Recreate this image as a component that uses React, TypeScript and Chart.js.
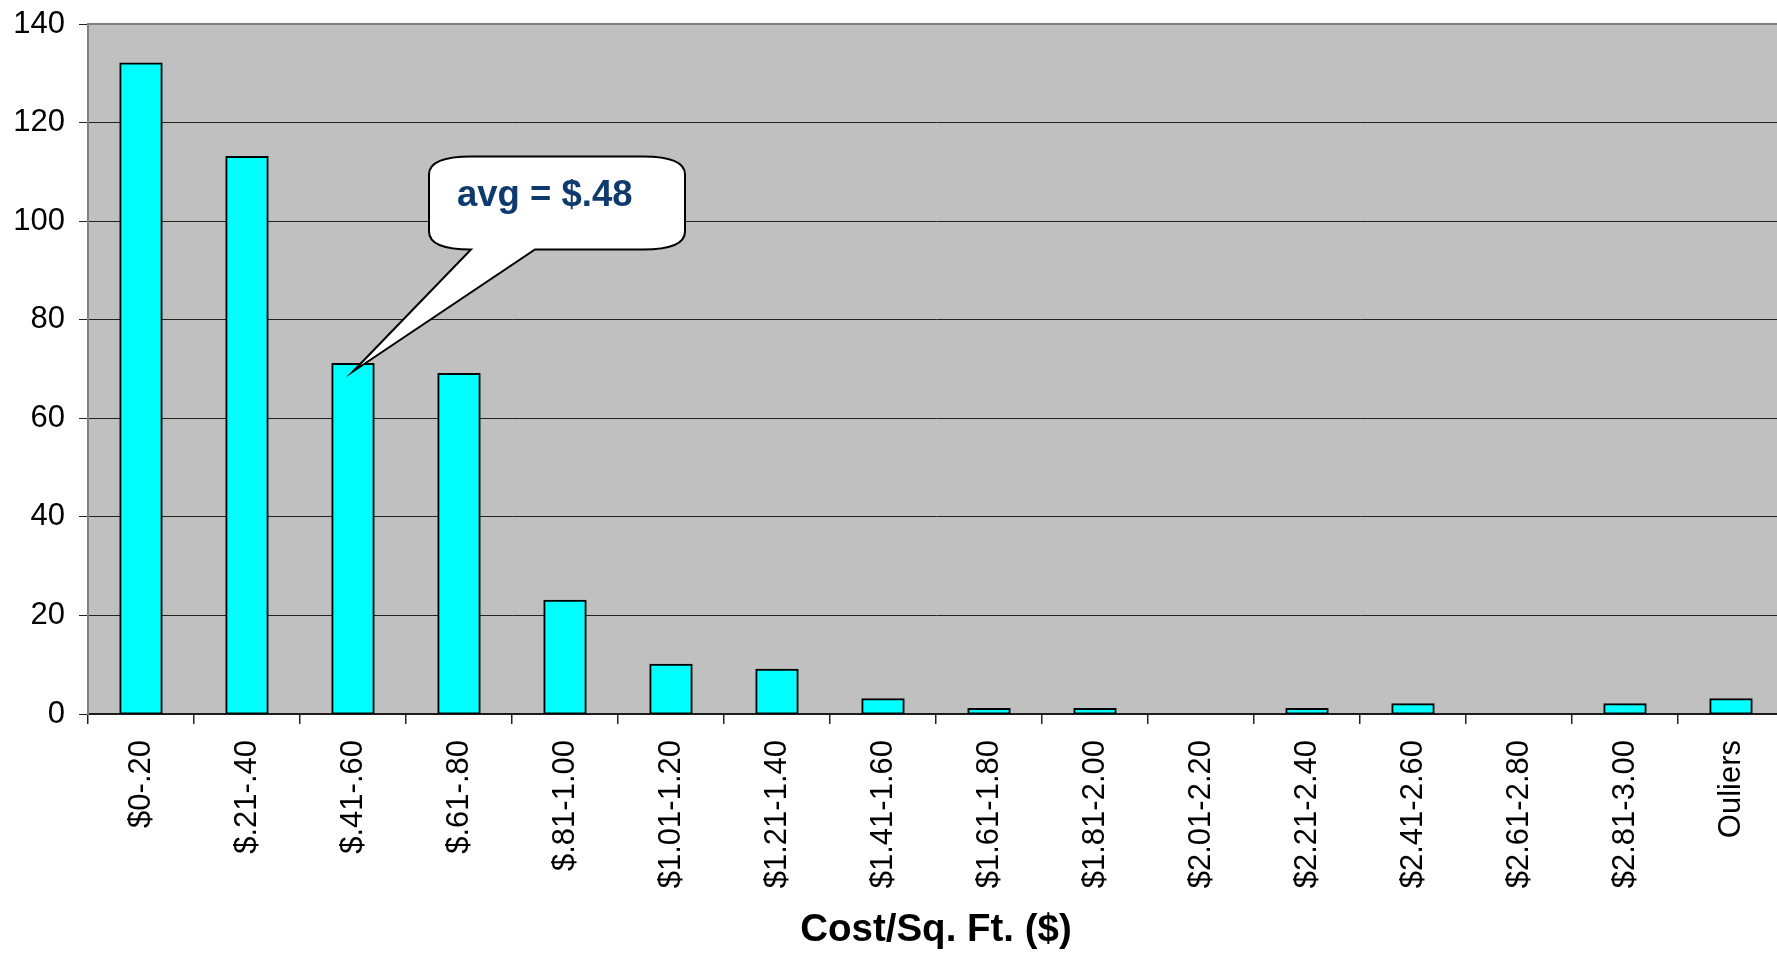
import React, { useEffect, useRef } from "react";
import { Chart, registerables } from "chart.js";

Chart.register(...registerables);

const categories = [
  "$0-.20", "$.21-.40", "$.41-.60", "$.61-.80", "$.81-1.00", "$1.01-1.20",
  "$1.21-1.40", "$1.41-1.60", "$1.61-1.80", "$1.81-2.00", "$2.01-2.20",
  "$2.21-2.40", "$2.41-2.60", "$2.61-2.80", "$2.81-3.00", "Ouliers",
];
const counts = [132, 113, 71, 69, 23, 10, 9, 3, 1, 1, 0, 1, 2, 0, 2, 3];
const yTicks = [0, 20, 40, 60, 80, 100, 120, 140];
const xTitle = "Cost/Sq. Ft. ($)";
const calloutText = "avg = $.48";
const calloutIndex = 2;
const calloutValue = 69.5;

const FONT = "'Liberation Sans', Arial, sans-serif";

const backgroundPlugin = {
  id: "plotBg",
  beforeDraw(chart: any) {
    const { ctx, chartArea } = chart;
    ctx.save();
    ctx.fillStyle = "#C0C0C0";
    ctx.fillRect(chartArea.left, chartArea.top, chartArea.right - chartArea.left, chartArea.bottom - chartArea.top);
    ctx.restore();
  },
  afterDraw(chart: any) {
    const { ctx, chartArea } = chart;
    ctx.save();
    ctx.strokeStyle = "#808080";
    ctx.lineWidth = 2;
    ctx.beginPath();
    ctx.moveTo(chartArea.left, chartArea.top);
    ctx.lineTo(chartArea.right, chartArea.top);
    ctx.stroke();
    ctx.restore();
  },
};

const calloutPlugin = {
  id: "callout",
  afterDatasetsDraw(chart: any) {
    const { ctx, scales } = chart;
    const tx = scales.x.getPixelForValue(calloutIndex);
    const ty = scales.y.getPixelForValue(calloutValue);
    const L = tx + 76, R = tx + 332, T = ty - 215, B = ty - 122;
    const rx = 42, ry = 18;
    const p1 = tx + 118, p2 = tx + 182;
    ctx.save();
    ctx.beginPath();
    ctx.moveTo(L + rx, T);
    ctx.lineTo(R - rx, T);
    ctx.quadraticCurveTo(R, T, R, T + ry);
    ctx.lineTo(R, B - ry);
    ctx.quadraticCurveTo(R, B, R - rx, B);
    ctx.lineTo(p2, B);
    ctx.lineTo(tx, ty);
    ctx.lineTo(p1, B);
    ctx.lineTo(L + rx, B);
    ctx.quadraticCurveTo(L, B, L, B - ry);
    ctx.lineTo(L, T + ry);
    ctx.quadraticCurveTo(L, T, L + rx, T);
    ctx.closePath();
    ctx.fillStyle = "#FFFFFF";
    ctx.fill();
    ctx.strokeStyle = "#000000";
    ctx.lineWidth = 2;
    ctx.stroke();
    ctx.fillStyle = "#0E3A6E";
    ctx.font = `bold 36.5px ${FONT}`;
    ctx.textAlign = "left";
    ctx.textBaseline = "alphabetic";
    ctx.fillText(calloutText, L + 28, T + 50);
    ctx.restore();
  },
};

export default function App() {
  const ref = useRef<HTMLCanvasElement>(null);
  useEffect(() => {
    if (!ref.current) return;
    const chart = new Chart(ref.current, {
      type: "bar",
      data: {
        labels: categories,
        datasets: [
          {
            data: counts,
            backgroundColor: "#00FFFF",
            borderColor: "#000000",
            borderWidth: 2,
            borderSkipped: false,
            inflateAmount: 1,
            barPercentage: 0.39,
            categoryPercentage: 1,
          },
        ],
      },
      options: {
        responsive: false,
        animation: false,
        devicePixelRatio: 1,
        layout: { padding: { top: 24, left: 0, right: 0, bottom: 0 } },
        plugins: { legend: { display: false }, tooltip: { enabled: false } },
        scales: {
          x: {
            offset: true,
            grid: {
              offset: true,
              drawOnChartArea: false,
              drawTicks: true,
              tickLength: 10,
              color: "#222222",
              lineWidth: 1.5,
            },
            border: { display: true, color: "#1a1a1a", width: 1.5 },
            ticks: {
              minRotation: 90,
              maxRotation: 90,
              autoSkip: false,
              padding: 16,
              color: "#000000",
              font: { family: FONT, size: 31 },
            },
            title: {
              display: true,
              text: xTitle,
              color: "#000000",
              font: { family: FONT, size: 38.5, weight: "bold", lineHeight: 1 },
              padding: { top: 0, bottom: 5 },
            },
            afterFit(scale: any) {
              scale.height = 241;
              scale.paddingLeft = 0;
              scale.paddingRight = 0;
              scale.paddingTop = 0;
              scale.paddingBottom = 0;
            },
          },
          y: {
            min: 0,
            max: 140,
            afterBuildTicks(scale: any) {
              scale.ticks = yTicks.map((v) => ({ value: v }));
            },
            grid: {
              color: "#222222",
              lineWidth: 1,
              drawTicks: true,
              tickLength: 9,
            },
            border: { display: true, color: "#808080", width: 2 },
            ticks: {
              padding: 14,
              color: "#000000",
              font: { family: FONT, size: 31 },
            },
            afterFit(scale: any) {
              scale.width = 88;
              scale.paddingLeft = 0;
              scale.paddingRight = 0;
              scale.paddingTop = 0;
              scale.paddingBottom = 0;
            },
          },
        },
      },
      plugins: [backgroundPlugin, calloutPlugin],
    });
    return () => chart.destroy();
  }, []);
  return (
    <div style={{ position: "fixed", left: 0, top: 0, width: "100vw", height: "100vh", overflow: "hidden", background: "#fff" }}>
      <canvas ref={ref} width={1784} height={955} style={{ display: "block" }} />
    </div>
  );
}
